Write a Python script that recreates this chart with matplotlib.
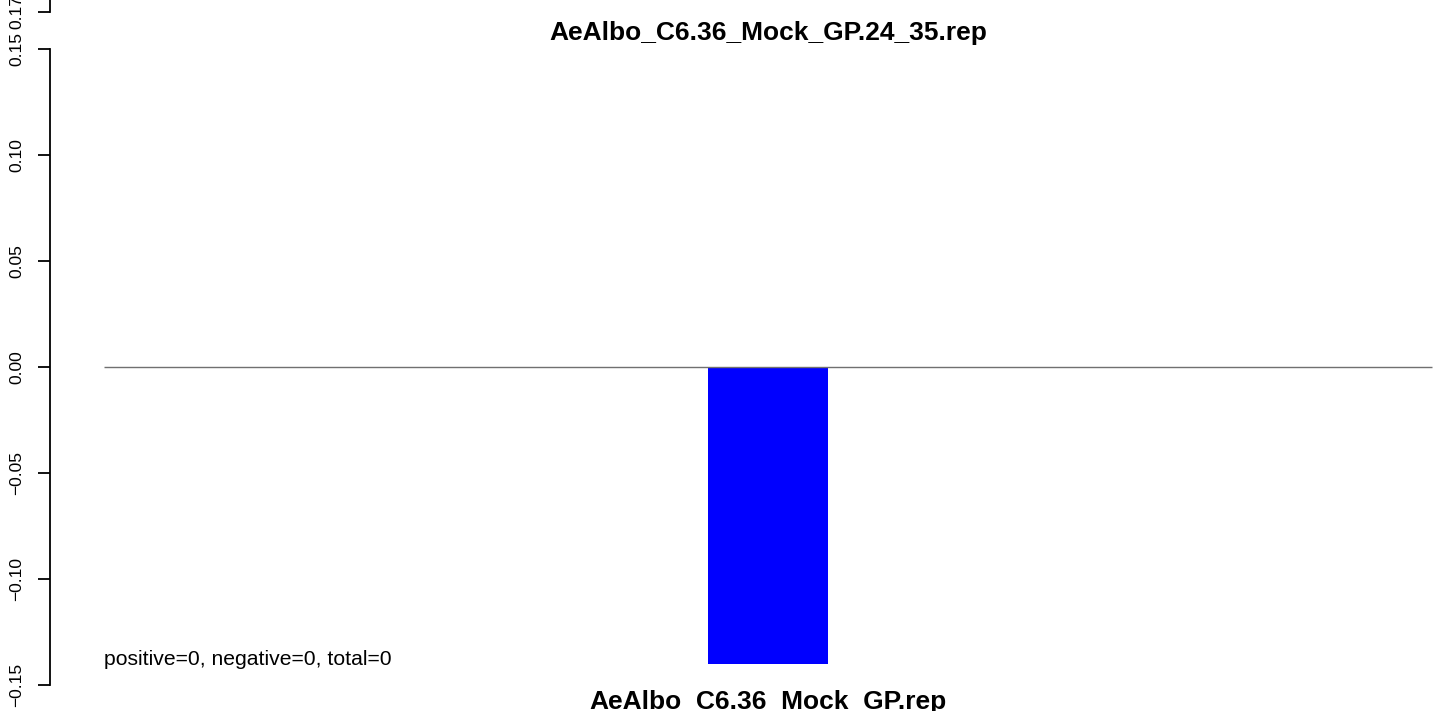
import matplotlib
matplotlib.use("Agg")
import matplotlib.pyplot as plt

plt.rcParams['font.family'] = ['Liberation Sans', 'DejaVu Sans']

# data
title = "AeAlbo_C6.36_Mock_GP.24_35.rep"
categories = ["AeAlbo_C6.36_Mock_GP.rep"]
values = [-0.140]
counts_text = "positive=0, negative=0, total=0"
yticks = [-0.15, -0.10, -0.05, 0.00, 0.05, 0.10, 0.15]
ytick_labels = ["\u22120.15", "\u22120.10", "\u22120.05", "0.00", "0.05", "0.10", "0.15"]
extra_tick = 0.1675
extra_label = "0.17"

W, H = 1449, 711
fig = plt.figure(figsize=(W / 100, H / 100), dpi=100)
# axes spans from x=50px to right edge, full height
ax = fig.add_axes([50 / W, 0, 1 - 50 / W, 1])

px_per_unit_x = 1328 / 11
ax.set_xlim(-5.5 - 54 / px_per_unit_x, 5.5 + 17 / px_per_unit_x)
px_per_unit_y = 2120
ax.set_ylim(-(H - 367) / px_per_unit_y, 367 / px_per_unit_y)

xpos = list(range(len(categories)))
ax.bar(xpos, values, width=1.0, color="#0000ff", zorder=2)
ax.hlines(0, -5.5, 5.5, color="#707070", lw=1.0, zorder=3)

for s in ["top", "right", "bottom"]:
    ax.spines[s].set_visible(False)
ax.spines["left"].set_bounds(-0.15, 0.15)
ax.spines["left"].set_linewidth(1.3)

ax.set_yticks(yticks + [extra_tick])
ax.set_yticklabels(ytick_labels + [extra_label], rotation=90, va="center",
                   fontsize=12.5)
ax.tick_params(axis="y", length=8.5, width=1.3, pad=10)
# short spine piece above the top tick
ax.plot([-5.5 - 54 / px_per_unit_x] * 2, [extra_tick, 367 / px_per_unit_y],
        color="black", lw=1.3, clip_on=False)

# category names under the bars (partly cut at the bottom like the original)
ax.set_xticks([])
for x, name in zip(xpos, categories):
    ax.text(x, 2 / H, name, transform=ax.get_xaxis_transform(), ha="center",
            va="baseline", fontsize=19, fontweight="bold")

# title centred over the plotting region
ax.text(0, 1 - 40 / H, title, transform=ax.get_xaxis_transform(), ha="center",
        va="baseline", fontsize=19, fontweight="bold")
ax.text(-5.5, -(665 - 367) / px_per_unit_y, counts_text, fontsize=15.2,
        ha="left", va="baseline")

fig.savefig("out.png", dpi=100)
